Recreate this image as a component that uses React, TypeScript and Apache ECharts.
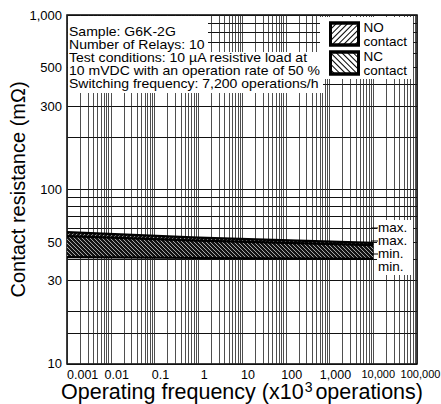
import React, { useEffect, useRef } from 'react';
import * as echarts from 'echarts';

// Axis ticks / labels
const xTickValues = [0.001, 0.01, 0.1, 1, 10, 100, 1000, 10000, 100000];
const xTickLabels = ['0.001', '0.01', '0.1', '1', '10', '100', '1,000', '10,000', '100,000'];
const xDecades = [0.001, 0.01, 0.1, 1, 10, 100, 1000, 10000];
const xMultiples = [1, 2, 3, 4, 5, 6, 7, 8, 9];
const yTickValues = [10, 30, 50, 100, 300, 500, 1000];
const yTickLabels = ['10', '30', '50', '100', '300', '500', '1,000'];
const yGridValues = [10, 15, 20, 30, 40, 50, 60, 70, 80, 90, 100, 200, 300, 400, 500, 600, 700, 800, 900, 1000];

// Data (operating frequency x10^3 operations -> contact resistance mOhm)
const freq = [0.001, 1, 10000];
const noMax = [57, 53, 49.5];
const noMin = [46, 44.5, 43];
const ncMax = [54, 51, 48];
const ncMin = [41, 40.5, 40];

const rightLabels = ['max.', 'max.', 'min.', 'min.'];
const infoLines = [
  'Sample: G6K-2G',
  'Number of Relays: 10',
  'Test conditions: 10 \u00b5A resistive load at',
  '10 mVDC with an operation rate of 50 %',
  'Switching frequency: 7,200 operations/h',
];

const FONT = '"Liberation Sans", Arial, Helvetica, sans-serif';

const fix = (v: number) => Number(v.toPrecision(6));
const xGridValues: number[] = [];
xDecades.forEach((d) => xMultiples.forEach((m) => xGridValues.push(fix(d * m))));
xGridValues.push(100000);
// nudge end values just inside the axis extent so they are not filtered out by float error
const inside = (arr: number[]) =>
  arr.map((v, i) => (i === 0 ? v * 1.0001 : i === arr.length - 1 ? v * 0.9999 : v));

const nearestIndex = (arr: number[], v: number) => {
  let best = 0;
  let bd = Infinity;
  arr.forEach((a, i) => {
    const dd = Math.abs(Math.log10(a) - Math.log10(v));
    if (dd < bd) {
      bd = dd;
      best = i;
    }
  });
  return best;
};

const legendDecalNO = {
  symbol: 'rect',
  symbolSize: 1,
  dashArrayX: [1, 0],
  dashArrayY: [1, 2.6],
  rotation: -Math.PI / 4,
  color: '#000',
};
const legendDecalNC = { ...legendDecalNO, rotation: Math.PI / 4 };

const bandSeries = (name: string, lo: number[], hi: number[], dir: 1 | -1, z: number) => ({
  name,
  type: 'custom',
  z,
  clip: true,
  silent: true,
  encode: { x: 0, y: [1, 2] },
  data: freq.map((f, i) => [f, lo[i], hi[i]]),
  itemStyle: { color: '#111' },
  renderItem: (params: any, api: any) => {
    if (params.dataIndex !== 0) return null;
    const top = freq.map((f, i) => api.coord([f, hi[i]]));
    const bot = freq.map((f, i) => api.coord([f, lo[i]]));
    const pts = top.concat(bot.slice().reverse());
    const xs = pts.map((p: number[]) => p[0]);
    const ys = pts.map((p: number[]) => p[1]);
    const minX = Math.min(...xs);
    const maxX = Math.max(...xs);
    const minY = Math.min(...ys);
    const maxY = Math.max(...ys);
    const hatch: any[] = [];
    const step = 4;
    const hs = { stroke: 'rgba(255,255,255,0.75)', lineWidth: 0.9 };
    if (dir === 1) {
      for (let c = minX + minY; c <= maxX + maxY; c += step) {
        hatch.push({ type: 'line', shape: { x1: c - maxY, y1: maxY, x2: c - minY, y2: minY }, style: hs });
      }
    } else {
      for (let c = minX - maxY; c <= maxX - minY; c += step) {
        hatch.push({ type: 'line', shape: { x1: minY + c, y1: minY, x2: maxY + c, y2: maxY }, style: hs });
      }
    }
    return {
      type: 'group',
      children: [
        { type: 'polygon', shape: { points: pts }, style: { fill: '#111', stroke: 'none' } },
        { type: 'group', clipPath: { type: 'polygon', shape: { points: pts } }, children: hatch },
        { type: 'polyline', shape: { points: top }, style: { stroke: '#000', lineWidth: 2.2, fill: 'none' } },
        { type: 'polyline', shape: { points: bot }, style: { stroke: '#000', lineWidth: 2.2, fill: 'none' } },
      ],
    };
  },
});

export default function App() {
  const ref = useRef<HTMLDivElement>(null);
  useEffect(() => {
    const chart = echarts.init(ref.current!, null, { renderer: 'svg' });
    const labelYs = [228, 241, 254, 267];
    const infoYs = [32, 45, 58, 71, 84];
    const option: any = {
      animation: false,
      backgroundColor: '#fff',
      textStyle: { fontFamily: FONT },
      grid: {
        left: 67,
        right: 24,
        top: 15,
        bottom: 40,
        show: true,
        borderColor: '#000',
        borderWidth: 1.5,
        containLabel: false,
        outerBoundsMode: 'none',
      },
      legend: {
        data: [
          { name: 'NO contact', itemStyle: { color: '#fff', borderColor: '#000', borderWidth: 3, decal: legendDecalNO } },
          { name: 'NC contact', itemStyle: { color: '#fff', borderColor: '#000', borderWidth: 3, decal: legendDecalNC } },
        ],
        orient: 'vertical',
        left: 320,
        top: 17,
        icon: 'rect',
        itemWidth: 28,
        itemHeight: 22,
        itemGap: 1,
        padding: [3, 6, 2, 9],
        backgroundColor: '#fff',
        formatter: (name: string) => name.replace(' ', '\n'),
        textStyle: { fontFamily: FONT, fontSize: 13.5, lineHeight: 14, color: '#000' },
        selectedMode: false,
        z: 10,
      },
      xAxis: {
        type: 'log',
        logBase: 10,
        min: 0.001,
        max: 100000,
        name: 'Operating frequency (x10{sup|3}operations)',
        nameLocation: 'middle',
        nameGap: 16,
        nameMoveOverlap: false,
        nameTextStyle: {
          fontFamily: FONT,
          fontSize: 21.5,
          color: '#000',
          rich: { sup: { fontSize: 14, padding: [0, 3, 10, 1], fontFamily: FONT, color: '#000' } },
        },
        axisLine: { show: false },
        axisTick: { show: false, customValues: inside(xGridValues) },
        splitLine: { show: true, lineStyle: { color: '#222', width: 0.8 } },
        axisLabel: {
          customValues: inside(xTickValues),
          color: '#000',
          fontSize: 12.5,
          margin: 4,
          fontFamily: FONT,
          alignMinLabel: 'left',
          hideOverlap: false,
          formatter: (v: number) => {
            const i = nearestIndex(xTickValues, v);
            if (i === 0) return `{f|${xTickLabels[i]}}`;
            if (i === xTickLabels.length - 1) return `{e|${xTickLabels[i]}}`;
            return i >= 7 ? `{s|${xTickLabels[i]}}` : `{n|${xTickLabels[i]}}`;
          },
          rich: {
            f: { fontSize: 12.5, fontFamily: FONT, color: '#000' },
            n: { fontSize: 12.5, fontFamily: FONT, color: '#000', padding: [0, 0, 0, 12] },
            s: { fontSize: 11, fontFamily: FONT, color: '#000', padding: [0, 0, 0, 10] },
            e: { fontSize: 11, fontFamily: FONT, color: '#000', padding: [0, 0, 0, 7] },
          },
        },
      },
      yAxis: {
        type: 'log',
        logBase: 10,
        min: 10,
        max: 1000,
        name: 'Contact resistance (m\u03a9)',
        nameLocation: 'middle',
        nameGap: 39,
        nameMoveOverlap: false,
        nameTextStyle: { fontFamily: FONT, fontSize: 20, color: '#000' },
        axisLine: { show: false },
        axisTick: { show: false, customValues: inside(yGridValues) },
        splitLine: { show: true, lineStyle: { color: '#111', width: 1 } },
        axisLabel: {
          customValues: inside(yTickValues),
          color: '#000',
          fontSize: 13,
          margin: 5,
          fontFamily: FONT,
          hideOverlap: false,
          formatter: (v: number) => yTickLabels[nearestIndex(yTickValues, v)],
        },
      },
      series: [
        bandSeries('NO contact', noMin, noMax, 1, 3),
        bandSeries('NC contact', ncMin, ncMax, -1, 4),
      ],
      graphic: [
        // white backgrounds behind the info text and the max./min. labels
        { type: 'rect', z: 5, shape: { x: 68, y: 16, width: 140, height: 37 }, style: { fill: '#fff' } },
        { type: 'rect', z: 5, shape: { x: 68, y: 52, width: 255, height: 41 }, style: { fill: '#fff' } },
        { type: 'rect', z: 5, shape: { x: 377, y: 220, width: 36, height: 55 }, style: { fill: '#fff' } },
        ...infoLines.map((t, i) => ({
          type: 'text',
          z: 6,
          x: 69,
          y: infoYs[i],
          scaleX: 1.08,
          style: {
            text: t,
            fontFamily: FONT,
            fontSize: 13,
            fill: '#000',
            verticalAlign: 'middle',
            align: 'left',
          },
        })),
        ...labelYs.slice(0, 3).map((y) => ({
          type: 'line',
          z: 6,
          shape: { x1: 371, y1: y, x2: 378, y2: y },
          style: { stroke: '#000', lineWidth: 1 },
        })),
        ...rightLabels.map((t, i) => ({
          type: 'text',
          z: 6,
          x: 378,
          y: labelYs[i],
          scaleX: 1.08,
          style: {
            text: t,
            fontFamily: FONT,
            fontSize: 12.5,
            lineHeight: 12.5,
            fill: '#000',
            verticalAlign: 'middle',
            align: 'left',
          },
        })),
      ],
    };
    chart.setOption(option);
    return () => chart.dispose();
  }, []);
  return <div ref={ref} style={{ position: 'absolute', left: 0, top: 0, width: 441, height: 404 }} />;
}
